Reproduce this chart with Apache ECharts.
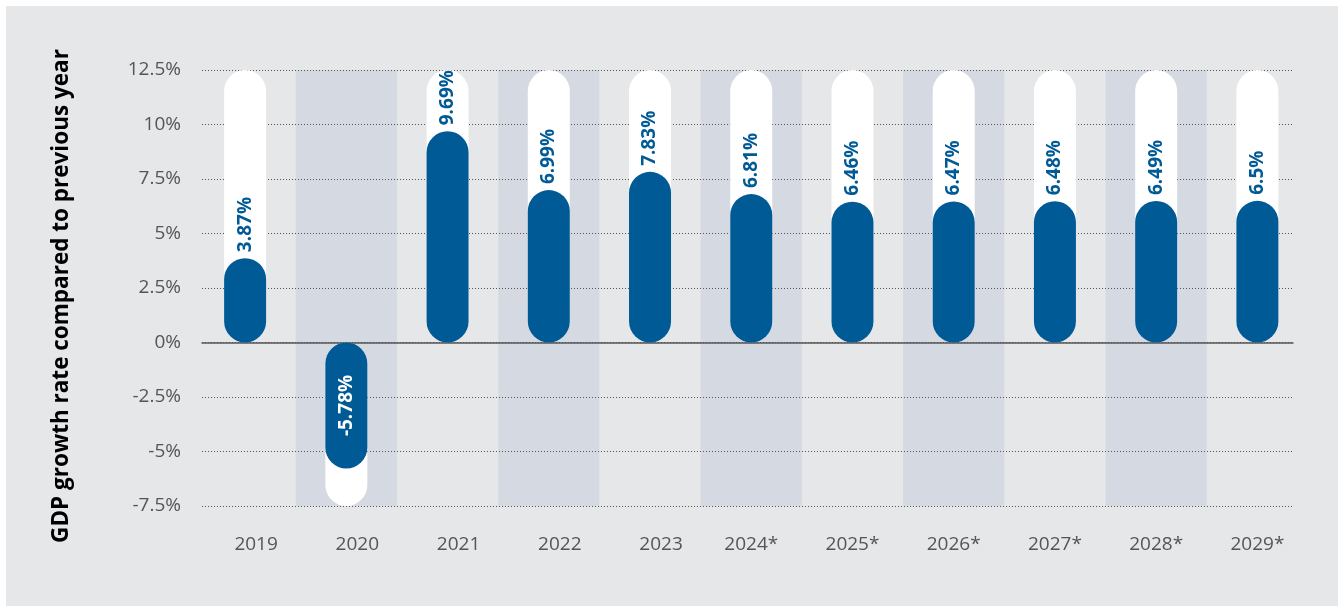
<!DOCTYPE html>
<html><head><meta charset="utf-8">
<script src="https://cdn.jsdelivr.net/npm/echarts@6.0.0/dist/echarts.min.js"></script>
<style>
html,body{margin:0;padding:0;background:#fff;width:1338px;height:606px;overflow:hidden}
#c{position:absolute;left:6px;top:6px;width:1332px;height:600px;background:#e6e7e9}
</style>
</head><body><div id="c"></div>
<script>
const categories = ['2019','2020','2021','2022','2023','2024*','2025*','2026*','2027*','2028*','2029*'];
const growth = [3.87, -5.78, 9.69, 6.99, 7.83, 6.81, 6.46, 6.47, 6.48, 6.49, 6.5];
const yTicks = [-7.5, -5, -2.5, 0, 2.5, 5, 7.5, 10, 12.5];
const yTickLabels = ['-7.5%', '-5%', '-2.5%', '0%', '2.5%', '5%', '7.5%', '10%', '12.5%'];
const axisTitle = 'GDP growth rate compared to previous year';

const FONT = '"Open Sans", "Noto Sans", sans-serif';
const BLUE = '#005a96';
const yMin = yTicks[0], yMax = yTicks[yTicks.length - 1];
const track = growth.map(v => v < 0 ? yMin : yMax);

const chart = echarts.init(document.getElementById('c'), null, {renderer: 'canvas'});
const common = {top: 64, bottom: 100};
chart.setOption({
  animation: false,
  backgroundColor: 'transparent',
  textStyle: {fontFamily: FONT},
  graphic: [{
    type: 'text', x: 56, y: 290, rotation: Math.PI / 2,
    style: {text: axisTitle, textAlign: 'center', textVerticalAlign: 'middle',
      font: 'bold 22.5px ' + FONT, fill: '#000'}
  }],
  grid: [
    Object.assign({left: 196, right: 45}, common),
    Object.assign({left: 188.5, right: 30}, common)
  ],
  xAxis: [
    {gridIndex: 0, type: 'value', min: 0, max: 1, z: 3,
      axisLine: {show: true, onZero: true, lineStyle: {color: '#555', width: 1.5}},
      axisTick: {show: false}, axisLabel: {show: false}, splitLine: {show: false}},
    {gridIndex: 1, type: 'category', data: categories, z: 0,
      axisLine: {show: false}, axisTick: {show: false},
      splitArea: {show: true, interval: 0, areaStyle: {color: ['rgba(0,0,0,0)', '#d5d9e2']}},
      axisLabel: {interval: 0, margin: 29, fontSize: 19, color: '#555', fontFamily: FONT,
        formatter: v => v.indexOf('*') >= 0 ? v : '{n|' + v + '}',
        rich: {n: {padding: [0, 0, 0, 22], fontSize: 19, color: '#555', fontFamily: FONT}}}}
  ],
  yAxis: [
    {gridIndex: 0, type: 'value', min: yMin, max: yMax, interval: 2.5, z: 1,
      axisLine: {show: false}, axisTick: {show: false},
      axisLabel: {margin: 21, fontSize: 19, color: '#555', fontFamily: FONT,
        formatter: v => yTickLabels[yTicks.indexOf(v)]},
      splitLine: {show: true, lineStyle: {type: [1, 2], color: '#555', width: 1}}},
    {gridIndex: 1, type: 'value', min: yMin, max: yMax, interval: 2.5, show: false,
      splitLine: {show: false}}
  ],
  series: [
    {type: 'bar', xAxisIndex: 1, yAxisIndex: 1, data: track, barWidth: 42, silent: true,
      itemStyle: {color: '#fff', borderRadius: 21}, z: 2},
    {type: 'bar', xAxisIndex: 1, yAxisIndex: 1, barGap: '-100%', barWidth: 42, z: 3,
      itemStyle: {color: BLUE, borderRadius: 21},
      data: growth.map(v => v < 0 ? {
        value: v,
        label: {position: 'inside', color: '#fff', align: 'center', verticalAlign: 'middle'}
      } : v),
      label: {show: true, position: 'top', rotate: 90, distance: 6, align: 'left',
        verticalAlign: 'middle', color: BLUE, fontWeight: 'bold', fontSize: 19, fontFamily: FONT,
        formatter: p => p.value + '%'}}
  ]
});
</script>
</body></html>
